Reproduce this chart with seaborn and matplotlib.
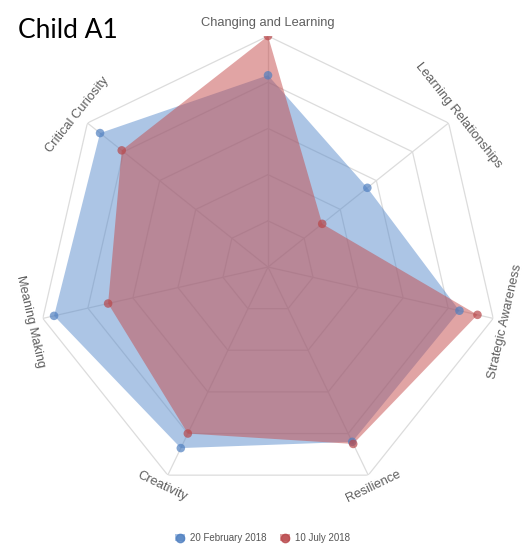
import matplotlib
matplotlib.use("Agg")
import matplotlib.pyplot as plt
import seaborn as sns
import numpy as np
import pandas as pd
from matplotlib.lines import Line2D
from matplotlib.patches import Patch
from matplotlib.legend_handler import HandlerTuple

# Données (fraction du rayon max)
categories = ["Changing and Learning", "Learning Relationships", "Strategic Awareness",
              "Resilience", "Creativity", "Meaning Making", "Critical Curiosity"]
feb_2018 = [0.83, 0.55, 0.85, 0.84, 0.87, 0.95, 0.93]
jul_2018 = [1.00, 0.30, 0.93, 0.85, 0.80, 0.71, 0.81]
series_names = ["20 February 2018", "10 July 2018"]

fill_colors = ["#5a8ccc", "#c44a4a"]
dot_colors = ["#4f7fc0", "#b8474a"]

sns.set_theme(style="white")
plt.rcParams["font.family"] = ["Liberation Sans", "DejaVu Sans"]

n = len(categories)
angles = np.linspace(0, 2 * np.pi, n, endpoint=False)

rows = []
for name, vals in zip(series_names, [feb_2018, jul_2018]):
    for a, c, v in zip(angles, categories, vals):
        rows.append({"series": name, "angle": a, "category": c, "value": v})
df = pd.DataFrame(rows)

fig = plt.figure(figsize=(5.25, 5.5), dpi=100)
ax = fig.add_axes([0.0705, 0.0945, 0.88, 0.84], projection="polar")
ax.set_theta_offset(np.pi / 2)
ax.set_theta_direction(-1)
ax.set_ylim(0, 1)
ax.grid(False)
ax.set_xticks([])
ax.set_yticks([])
ax.spines["polar"].set_visible(False)
ax.set_facecolor("none")

# grille polygonale
closed = np.append(angles, angles[0])
for r in [0.2, 0.4, 0.6, 0.8, 1.0]:
    ax.plot(closed, [r] * (n + 1), color="#dcdcdc", lw=0.9, zorder=0)
for a in angles:
    ax.plot([a, a], [0, 1], color="#dcdcdc", lw=0.9, zorder=0)

# aires
for name, fc in zip(series_names, fill_colors):
    sub = df[df["series"] == name]
    vals = np.append(sub["value"].values, sub["value"].values[0])
    ax.fill(closed, vals, color=fc, alpha=0.5, lw=0, zorder=1)

sns.scatterplot(data=df, x="angle", y="value", hue="series", palette=dot_colors,
                s=38, alpha=0.7, edgecolor="none", legend=False, ax=ax, zorder=3)
ax.set_xlabel("")
ax.set_ylabel("")

# étiquettes des axes
for a, c in zip(angles, categories):
    phi = 90 - np.degrees(a)
    rot = ((phi + 180) % 180) - 90
    ax.text(a, 1.055, c, rotation=rot, rotation_mode="anchor", ha="center", va="center",
            fontsize=9.3, color="#5e5e5e")

fig.text(0.034, 0.945, "Child A1", fontsize=19, color="black", ha="left", va="center",
         family=["Lato", "DejaVu Sans"])

handles = [(Patch(facecolor=fc, alpha=0.5, edgecolor="none"),
            Line2D([], [], marker="o", ls="", color=dc, alpha=0.8, markersize=6))
           for fc, dc in zip(fill_colors, dot_colors)]
fig.legend(handles, series_names, loc="center", bbox_to_anchor=(0.5, 0.022), ncol=2,
           frameon=False, fontsize=7, labelcolor="#555555", handlelength=1.0,
           handleheight=0.6, handletextpad=0.5, columnspacing=1.4,
           handler_map={tuple: HandlerTuple(ndivide=1)})

fig.savefig("out.png", dpi=100)
